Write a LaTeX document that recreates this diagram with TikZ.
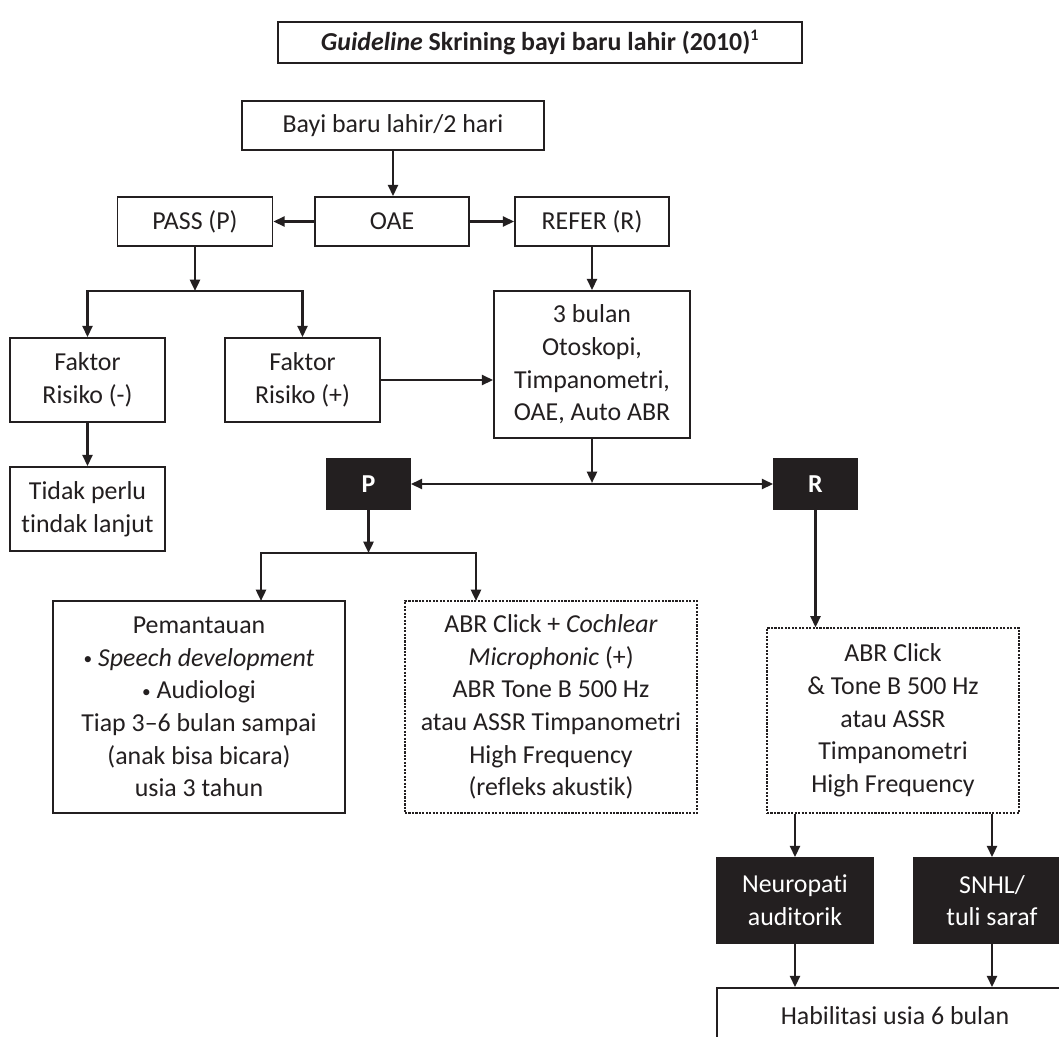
\documentclass[tikz,border=0pt]{standalone}
\usepackage{fontspec}
\setmainfont{Carlito}[Ligatures={NoCommon,NoRare,NoContextual}]
\usetikzlibrary{arrows.meta}
\definecolor{ink}{RGB}{35,31,32}
\newcommand{\bul}{{\fontsize{13}{13}\selectfont\raisebox{0.15ex}{•}}}

\begin{document}
\begin{tikzpicture}[x=0.75pt,y=-0.75pt,
  sz/.style 2 args={minimum width=#1*0.75pt,minimum height=#2*0.75pt},
  box/.style={draw=ink,line width=1.3pt,fill=white,text=ink,align=center,inner sep=0pt,
    font=\fontsize{19.4}{24.5}\selectfont},
  dotbox/.style={box,line width=0.9pt,dash pattern=on 1.6pt off 1pt},
  blackbox/.style={box,fill=ink,text=white},
  arr/.style={draw=ink,line width=1.8pt,-{Triangle[length=8.5pt,width=7.5pt]}},
  dbl/.style={arr,{Triangle[length=8.5pt,width=7.5pt]}-{Triangle[length=8.5pt,width=7.5pt]}}]
\useasboundingbox[fill=white] (0,0) rectangle (1059,1036);

\node[box,sz={524}{41}] (judul) at (540,42.5) {\textbf{\textit{Guideline} Skrining bayi baru lahir (2010)\textsuperscript{\fontsize{12}{12}\selectfont 1}}};
\node[box,sz={302}{49}] (bayi) at (393,125.5) {Bayi baru lahir/2 hari};
\node[box,sz={154}{49}] (oae) at (392,221.5) {OAE};
\node[box,sz={155}{49}] (pass) at (195,221.5) {PASS (P)};
\node[box,sz={154}{49}] (refer) at (592,221.5) {REFER (R)};
\node[box,sz={155}{84}] (fmin) at (87.5,380) {Faktor\\Risiko (-)};
\node[box,sz={155}{84}] (fplus) at (302.5,380) {Faktor\\Risiko (+)};
\node[box,sz={196}{147}] (tiga) at (592,364.5) {3 bulan\\Otoskopi,\\Timpanometri,\\OAE, Auto ABR};
\node[box,sz={155}{84}] (tidak) at (87.5,509) {Tidak perlu\\tindak lanjut};
\node[blackbox,sz={83}{50}] (p) at (368.5,484) {\textbf{P}};
\node[blackbox,sz={83}{50}] (r) at (815.5,484) {\textbf{R}};
\node[box,sz={292}{212}] (pantau) at (199,707) {Pemantauan\\\bul\ \textit{Speech development}\\\bul\ Audiologi\\Tiap 3–6 bulan sampai\\(anak bisa bicara)\\usia 3 tahun};
\node[dotbox,sz={292}{212}] (abrp) at (551,707) {ABR Click + \textit{Cochlear}\\\textit{Microphonic} (+)\\ABR Tone B 500 Hz\\atau ASSR Timpanometri\\High Frequency\\(refleks akustik)};
\node[dotbox,sz={252}{185}] (abrr) at (893,720.5) {ABR Click\\\& Tone B 500 Hz\\atau ASSR\\Timpanometri\\High Frequency};
\node[blackbox,sz={156}{85}] (neuro) at (795,900.5) {Neuropati\\auditorik};
\node[blackbox,sz={156}{85}] (snhl) at (992,900.5) {SNHL/\\tuli saraf};
\node[box,sz={356}{56}] (habil) at (895,1016) {Habilitasi usia 6 bulan};

\coordinate (jpass) at (195,291);
\coordinate (jtiga) at (592,483);
\coordinate (jp) at (368.5,553);
\coordinate (inpantau) at (261,601);
\coordinate (inabrp) at (476,601);

\draw[arr] (bayi.south) -- (bayi.south |- oae.north);
\draw[arr] (oae) -- (pass);
\draw[arr] (oae) -- (refer);
\draw[arr] (pass) -- (jpass);
\draw[arr] (jpass) -| (fmin);
\draw[arr] (jpass) -| (fplus);
\draw[arr] (refer) -- (tiga);
\draw[arr] (fplus.east) -- (fplus.east -| tiga.west);
\draw[arr] (fmin) -- (tidak);
\draw[arr] (tiga) -- (jtiga);
\draw[dbl] (p) -- (r);
\draw[arr] (p) -- (jp);
\draw[arr] (jp) -| (inpantau);
\draw[arr] (jp) -| (inabrp);
\draw[arr] (r) -- (r |- abrr.north);
\draw[arr] (neuro |- abrr.south) -- (neuro);
\draw[arr] (snhl |- abrr.south) -- (snhl);
\draw[arr] (neuro) -- (neuro |- habil.north);
\draw[arr] (snhl) -- (snhl |- habil.north);
\end{tikzpicture}
\end{document}
